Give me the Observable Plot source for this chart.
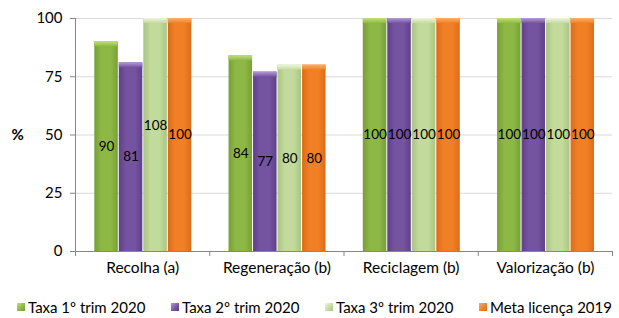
<!DOCTYPE html>
<html><head><meta charset="utf-8">
<script src="https://cdn.jsdelivr.net/npm/d3@7"></script>
<script src="https://cdn.jsdelivr.net/npm/@observablehq/plot@0.6"></script>
<style>
body{margin:0;background:#fff;font-family:Lato,"Open Sans",sans-serif;}
#chart svg{display:block;}
g[aria-label^="y-axis"] line, g[aria-label^="y-axis"] path,
g[aria-label^="x-axis"] line, g[aria-label^="x-axis"] path{stroke:#868686;}
#legend{position:relative;height:28px;font-size:15px;color:#000;}
.item{position:absolute;top:8px;display:flex;align-items:center;white-space:nowrap;}
.sw{width:8px;height:8px;margin-right:3px;}
</style></head><body><div id="chart"></div><div id="legend"></div>
<script>
const categories = ["Recolha (a)", "Regeneração (b)", "Reciclagem (b)", "Valorização (b)"];
const series = ["Taxa 1º trim 2020", "Taxa 2º trim 2020", "Taxa 3º trim 2020", "Meta licença 2019"];
const taxa1 = [90, 84, 100, 100];
const taxa2 = [81, 77, 100, 100];
const taxa3 = [108, 80, 100, 100];
const meta = [100, 80, 100, 100];
const yTicks = [0, 25, 50, 75, 100];
const seriesColors = ["#8db845", "#7453a0", "#c2da9c", "#f07f26"];
const edgeColors = ["#789f37", "#604089", "#a9c483", "#dd6c19"];
const capColors = ["#c0e07e", "#b49ad9", "#eef6e0", "#fbb06c"];

const values = [taxa1, taxa2, taxa3, meta];
const groupPad = 0.14, barW = 0.1825;
const rows = [];
values.forEach((arr, j) => arr.forEach((v, i) => {
  const x1 = i + groupPad + j * barW;
  rows.push({cat: categories[i], s: j, value: v, x1, x2: x1 + barW, top: Math.min(v, 100)});
}));

const marks = [
  Plot.ruleY(yTicks.filter(d => d > 0), {stroke: "#d9d9d9"}),
];
series.forEach((s, j) => {
  const r = rows.filter(d => d.s === j);
  marks.push(Plot.rect(r, {x1: "x1", x2: "x2", y1: 0, y2: "value", fill: `url(#bar${j})`, insetLeft: 0.5, insetRight: 0.5, clip: true}));
  marks.push(Plot.rect(r, {x1: "x1", x2: "x2", y1: d => d.top - 2.2, y2: "top", fill: `url(#cap${j})`, insetLeft: 0.5, insetRight: 0.5, clip: true}));
});
marks.push(
  Plot.ruleX([0], {stroke: "#868686"}),
  Plot.ruleY([0], {stroke: "#868686"}),
  Plot.text(rows, {x: d => (d.x1 + d.x2) / 2, y: d => d.value / 2, text: d => String(d.value), fontSize: 13.5, fill: "#000"}),
  Plot.text(categories, {x: (d, i) => i + 0.5, text: d => d, frameAnchor: "bottom", dy: 21, fontSize: 15.5, fill: "#000"}),
  Plot.text(["%"], {frameAnchor: "left", dx: -64, text: d => d, fontSize: 15, fontWeight: "bold", fill: "#000"})
);

const svg = Plot.plot({
  width: 619, height: 290,
  marginTop: 18, marginBottom: 39, marginLeft: 75, marginRight: 7,
  style: {fontFamily: "Lato, 'Open Sans', sans-serif", fontSize: "15px", color: "#000", background: "#fff"},
  x: {domain: [0, categories.length], ticks: d3.range(categories.length + 1), tickFormat: () => "", tickSize: 5, label: null},
  y: {domain: [0, 100], ticks: yTicks, tickSize: 5, tickPadding: 8, label: null},
  marks
});

const defs = d3.select(svg).insert("defs", ":first-child");
seriesColors.forEach((c, j) => {
  const g = defs.append("linearGradient").attr("id", `bar${j}`).attr("x1", 0).attr("x2", 1).attr("y1", 0).attr("y2", 0);
  g.append("stop").attr("offset", 0).attr("stop-color", edgeColors[j]);
  g.append("stop").attr("offset", 0.3).attr("stop-color", c);
  g.append("stop").attr("offset", 0.7).attr("stop-color", c);
  g.append("stop").attr("offset", 1).attr("stop-color", edgeColors[j]);
  const k = defs.append("linearGradient").attr("id", `cap${j}`).attr("x1", 0).attr("x2", 0).attr("y1", 0).attr("y2", 1);
  k.append("stop").attr("offset", 0).attr("stop-color", capColors[j]);
  k.append("stop").attr("offset", 1).attr("stop-color", c);
});
document.getElementById("chart").appendChild(svg);

const legend = document.getElementById("legend");
const legendLeft = 17, legendStep = 154;
series.forEach((s, j) => {
  const it = document.createElement("div");
  it.className = "item";
  it.style.left = (legendLeft + j * legendStep) + "px";
  it.innerHTML = `<span class="sw" style="background:linear-gradient(135deg, ${capColors[j]}, ${seriesColors[j]} 60%, ${edgeColors[j]})"></span><span>${s}</span>`;
  legend.appendChild(it);
});
</script></body></html>
